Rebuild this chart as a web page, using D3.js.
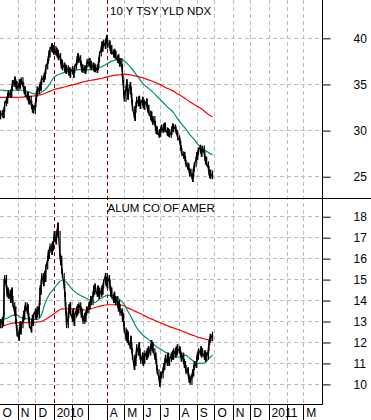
<!DOCTYPE html>
<html><head><meta charset="utf-8">
<script src="https://cdn.jsdelivr.net/npm/d3@7"></script>
<style>body{margin:0;background:#fff}svg{display:block}text{font-family:"Liberation Sans",Arial,sans-serif}</style>
</head><body><svg id="c" width="371" height="420"></svg>
<script>
const topTitle = "10 Y TSY YLD NDX";
const botTitle = "ALUM CO OF AMER";
const startDate = "2009-10-01";
const endDate = "2011-03-31";
const monthLabels = ["O","N","D","2010","","","A","M","J","J","A","S","O","N","D","2011","","M"];
const markerDates = ["2010-01-01","2010-04-01"];
const tnxTicks = [25,30,35,40];
const aaTicks = [10,11,12,13,14,15,16,17,18];

const tnxClose = [
31.5,31.9,31.7,32.0,31.6,32.3,32.9,33.4,33.2,33.8,
34.1,33.8,34.2,33.9,34.6,35.2,35.0,35.6,35.3,34.8,
35.1,34.6,34.9,35.3,34.8,35.2,35.5,35.0,34.6,34.2,
34.5,33.9,33.6,33.9,33.4,33.1,33.5,32.9,32.6,32.2,
32.5,32.1,32.8,33.4,33.9,34.5,34.2,34.7,35.0,34.6,
35.3,35.7,35.5,36.0,35.8,36.4,36.9,37.5,37.8,38.4,
38.2,38.8,39.2,38.7,39.0,38.5,38.9,38.4,38.7,38.2,
38.5,37.9,38.1,37.5,37.0,37.4,36.8,37.1,36.6,36.9,
36.4,36.8,36.5,36.2,36.6,36.0,36.4,36.7,36.3,36.0,
36.5,36.9,37.4,37.8,38.1,37.6,37.9,37.3,37.0,36.6,
36.9,36.5,36.8,36.4,36.7,37.1,37.5,37.2,37.6,37.0,
37.3,36.8,37.1,36.7,37.0,36.6,36.9,36.5,36.8,37.2,
37.7,38.3,38.9,39.4,38.8,39.3,39.6,39.1,39.8,40.1,
39.6,39.2,39.5,38.9,38.6,39.0,38.5,38.2,38.6,38.1,
38.4,37.9,37.6,38.0,37.5,37.2,37.6,36.9,35.8,35.2,
34.1,33.4,34.6,35.3,34.7,33.6,34.2,35.0,34.5,33.8,
33.1,32.4,31.6,31.3,32.2,32.8,33.4,32.9,33.5,33.1,
32.6,33.0,33.4,32.7,33.1,32.5,32.9,33.2,32.6,32.2,
32.5,31.9,31.4,31.8,31.2,30.9,31.3,30.8,30.3,29.9,
30.2,29.8,29.5,29.9,29.6,30.1,30.4,30.0,30.5,30.2,
30.6,30.1,29.7,30.0,29.6,29.9,29.5,29.8,30.2,30.5,
30.1,30.4,30.2,29.9,29.8,29.6,29.2,28.9,28.6,28.1,
27.8,27.5,27.2,27.4,27.0,26.6,26.3,26.0,26.2,25.7,
25.3,25.6,25.0,24.7,25.2,25.8,26.3,26.9,27.4,27.1,
27.6,27.9,28.2,27.8,27.4,27.9,28.1,27.5,27.0,26.6,
26.9,26.4,25.9,25.4,25.1,25.5,25.0,25.4
];
const aaClose = [
13.0,12.8,13.1,12.9,13.3,14.9,15.1,14.6,14.3,14.5,
14.2,14.4,14.0,14.3,14.5,14.1,13.8,13.4,13.6,13.0,
12.7,12.4,12.2,12.6,12.9,12.5,12.8,13.1,13.4,13.2,
13.6,13.8,13.5,13.7,13.3,13.1,12.8,12.6,13.0,13.2,
12.9,13.3,13.5,13.2,13.4,13.6,13.3,13.9,14.6,14.4,
14.9,15.2,14.8,15.0,15.3,15.0,15.6,16.0,16.3,16.1,
16.4,16.6,16.3,16.7,16.5,16.9,17.2,16.8,17.1,17.3,
17.6,17.2,16.1,15.8,16.0,15.4,15.2,14.7,14.3,13.8,
13.4,12.8,13.3,13.7,13.5,13.8,13.4,13.1,13.5,13.2,
12.9,13.3,13.6,13.4,13.7,13.5,13.8,13.6,13.3,13.5,
13.2,13.0,13.3,13.1,13.4,13.6,13.5,13.8,13.7,13.9,
14.1,13.9,14.3,14.6,14.4,14.7,14.5,14.3,14.6,14.4,
14.2,14.5,14.3,14.6,14.4,14.7,14.9,15.2,14.8,15.0,
14.7,15.1,14.9,14.6,14.3,14.5,14.2,14.0,14.3,14.1,
13.9,14.1,13.8,13.6,13.9,13.7,13.4,13.5,13.1,13.3,
12.9,12.6,12.2,12.5,12.1,12.4,12.0,11.8,12.2,11.9,
11.6,11.3,10.8,11.2,11.0,11.4,11.8,11.5,11.9,11.6,
11.3,11.1,11.4,11.0,11.3,11.1,11.5,11.3,11.6,11.4,
11.7,11.5,11.8,12.0,11.7,11.9,11.6,11.3,11.4,11.1,
10.8,10.6,10.3,10.0,10.2,10.5,10.4,10.7,10.9,10.8,
11.1,11.3,11.0,11.4,11.2,11.0,11.2,11.4,11.3,11.5,
11.3,11.6,11.4,11.7,11.5,11.8,11.6,11.7,11.5,11.4,
11.2,11.4,11.1,10.9,11.0,10.8,10.6,10.7,10.4,10.2,
10.3,10.1,10.4,10.6,10.5,10.8,11.0,10.9,11.2,11.4,
11.3,11.6,11.5,11.7,11.4,11.6,11.5,11.3,11.5,11.2,
11.4,11.3,11.7,12.0,12.1,12.3,12.2,12.4
];
// moving averages read every 5 trading days (plus the last day)
const tnxMA50 = [34.4,34.35,34.3,34.35,34.4,34.4,34.3,34.2,34.0,33.95,34.15,34.45,35.0,35.7,36.05,36.2,36.35,36.45,36.5,36.6,36.6,36.6,36.6,36.65,36.8,37.0,37.25,37.5,37.65,37.75,37.6,37.2,36.7,36.1,35.5,34.95,34.6,34.2,33.75,33.3,32.85,32.4,32.0,31.35,30.75,30.2,29.6,29.1,28.5,28.1,27.8,27.5,27.4];
const tnxMA200 = [33.6,33.6,33.6,33.6,33.6,33.62,33.65,33.7,33.75,33.82,33.9,34.05,34.25,34.42,34.55,34.65,34.78,34.9,35.0,35.12,35.25,35.35,35.45,35.53,35.6,35.7,35.82,35.92,36.0,36.05,36.1,36.1,36.0,35.9,35.8,35.65,35.5,35.35,35.15,34.95,34.7,34.5,34.3,34.0,33.75,33.45,33.15,32.85,32.6,32.3,31.95,31.6,31.5];
const aaMA50 = [13.05,13.12,13.18,13.3,13.32,13.2,13.15,13.12,13.1,13.1,13.3,13.9,14.3,14.55,14.8,14.98,14.9,14.65,14.45,14.3,14.2,14.1,14.0,13.9,14.05,14.15,14.25,14.25,14.2,14.05,13.85,13.5,13.15,12.75,12.5,12.3,12.15,11.95,11.8,11.68,11.55,11.45,11.35,11.3,11.35,11.4,11.25,11.1,11.0,11.0,11.08,11.3,11.4];
const aaMA200 = [12.7,12.8,12.87,12.92,12.95,12.95,12.95,12.95,12.95,12.97,13.0,13.1,13.22,13.35,13.5,13.6,13.6,13.6,13.6,13.58,13.56,13.55,13.6,13.67,13.72,13.77,13.8,13.8,13.8,13.8,13.75,13.65,13.56,13.47,13.38,13.28,13.18,13.1,13.02,12.93,12.85,12.77,12.7,12.63,12.56,12.48,12.4,12.33,12.25,12.2,12.15,12.1,12.08];

const W = 371, H = 420;
const plotR = 322.5, divY = 198.5, botY = 404.5;
const svg = d3.select("#c");
const parse = d3.utcParse("%Y-%m-%d");
const x = d3.scaleUtc().domain([parse(startDate), parse(endDate)]).range([0, 321.5]);

const days = [];
for (let d = parse(startDate); days.length < tnxClose.length; d = d3.utcDay.offset(d, 1)) {
  const wd = d.getUTCDay();
  if (wd !== 0 && wd !== 6) days.push(d);
}
const maIdx = d3.range(0, tnxClose.length - 1, 5).concat([tnxClose.length - 1]);

const yTop = d3.scaleLinear().domain([22.64, 44.15]).range([divY, 0]);
const yBot = d3.scaleLinear().domain([9.04, 18.87]).range([botY, divY]);

const months = d3.utcMonth.range(parse(startDate), d3.utcDay.offset(parse(endDate), 1));
const px = v => Math.round(v - 0.5) + 0.5;

const grid = svg.append("g").attr("stroke", "#bdbdbd").attr("stroke-dasharray", "4,3").attr("stroke-width", 1);
months.slice(1).forEach(m => {
  grid.append("line").attr("x1", px(x(m))).attr("x2", px(x(m))).attr("y1", 0).attr("y2", botY);
});
tnxTicks.forEach(t => grid.append("line").attr("x1", 0).attr("x2", plotR).attr("y1", px(yTop(t))).attr("y2", px(yTop(t))));
aaTicks.forEach(t => grid.append("line").attr("x1", 0).attr("x2", plotR).attr("y1", px(yBot(t))).attr("y2", px(yBot(t))));
markerDates.forEach(s => {
  const xv = px(x(parse(s)));
  svg.append("line").attr("x1", xv).attr("x2", xv).attr("y1", 0).attr("y2", botY)
    .attr("stroke", "#8b0000").attr("stroke-dasharray", "4,3").attr("stroke-width", 1);
});

function drawPanel(close, ma50, ma200, y) {
  const g = svg.append("g");
  const maLine = d3.line().x((d, i) => x(days[maIdx[i]])).y(d => y(d)).curve(d3.curveMonotoneX);
  g.append("path").attr("d", maLine(ma200)).attr("fill", "none").attr("stroke", "#ff0000").attr("stroke-width", 1.2);
  g.append("path").attr("d", maLine(ma50)).attr("fill", "none").attr("stroke", "#00897b").attr("stroke-width", 1.2);
  const bars = g.append("g").attr("stroke", "#000").attr("stroke-width", 1.2);
  close.forEach((v, i) => {
    const p = i > 0 ? close[i - 1] : v;
    const hi = Math.max(p, v), lo = Math.min(p, v);
    bars.append("line").attr("x1", x(days[i])).attr("x2", x(days[i]))
      .attr("y1", y(hi) - 2.5).attr("y2", y(lo) + 2.5);
  });
  const line = d3.line().x((d, i) => x(days[i])).y(d => y(d));
  g.append("path").attr("d", line(close)).attr("fill", "none").attr("stroke", "#000").attr("stroke-width", 1.2);
}
drawPanel(tnxClose, tnxMA50, tnxMA200, yTop);
drawPanel(aaClose, aaMA50, aaMA200, yBot);

svg.append("text").attr("x", 110).attr("y", 15).attr("font-size", 11.5).text(topTitle);
svg.append("text").attr("x", 107.5).attr("y", 211.5).attr("font-size", 11.5).text(botTitle);

svg.append("line").attr("x1", 0).attr("x2", W).attr("y1", divY).attr("y2", divY).attr("stroke", "#000");
svg.append("line").attr("x1", 0).attr("x2", plotR).attr("y1", botY).attr("y2", botY).attr("stroke", "#000");

function rightAxis(y, minor, major) {
  const g = svg.append("g").attr("transform", `translate(${plotR},0)`);
  g.call(d3.axisRight(y).tickValues(minor).tickSize(4).tickFormat(""));
  g.call(d3.axisRight(y).tickValues(major).tickSize(8).tickPadding(23).tickFormat(d3.format("d")));
  g.selectAll(".domain").remove();
  g.selectAll("text").attr("font-size", 12).attr("font-family", '"Liberation Sans",Arial,sans-serif').attr("fill", "#000");
  g.selectAll("line").attr("stroke", "#000");
}
rightAxis(yTop, d3.range(23, 45, 1), tnxTicks);
rightAxis(yBot, d3.range(9.5, 18.9, 0.5), aaTicks);
svg.append("line").attr("x1", plotR).attr("x2", plotR).attr("y1", 0).attr("y2", botY).attr("stroke", "#000");

const mg = svg.append("g").attr("transform", `translate(0,${botY})`);
months.forEach((m, i) => {
  mg.append("text").attr("x", x(m) + 2.5).attr("y", 12.5).attr("font-size", 12).text(monthLabels[i]);
});
months.slice(1).forEach(m => {
  mg.append("line").attr("x1", px(x(m))).attr("x2", px(x(m))).attr("y1", 0).attr("y2", 16).attr("stroke", "#000");
});
</script></body></html>
